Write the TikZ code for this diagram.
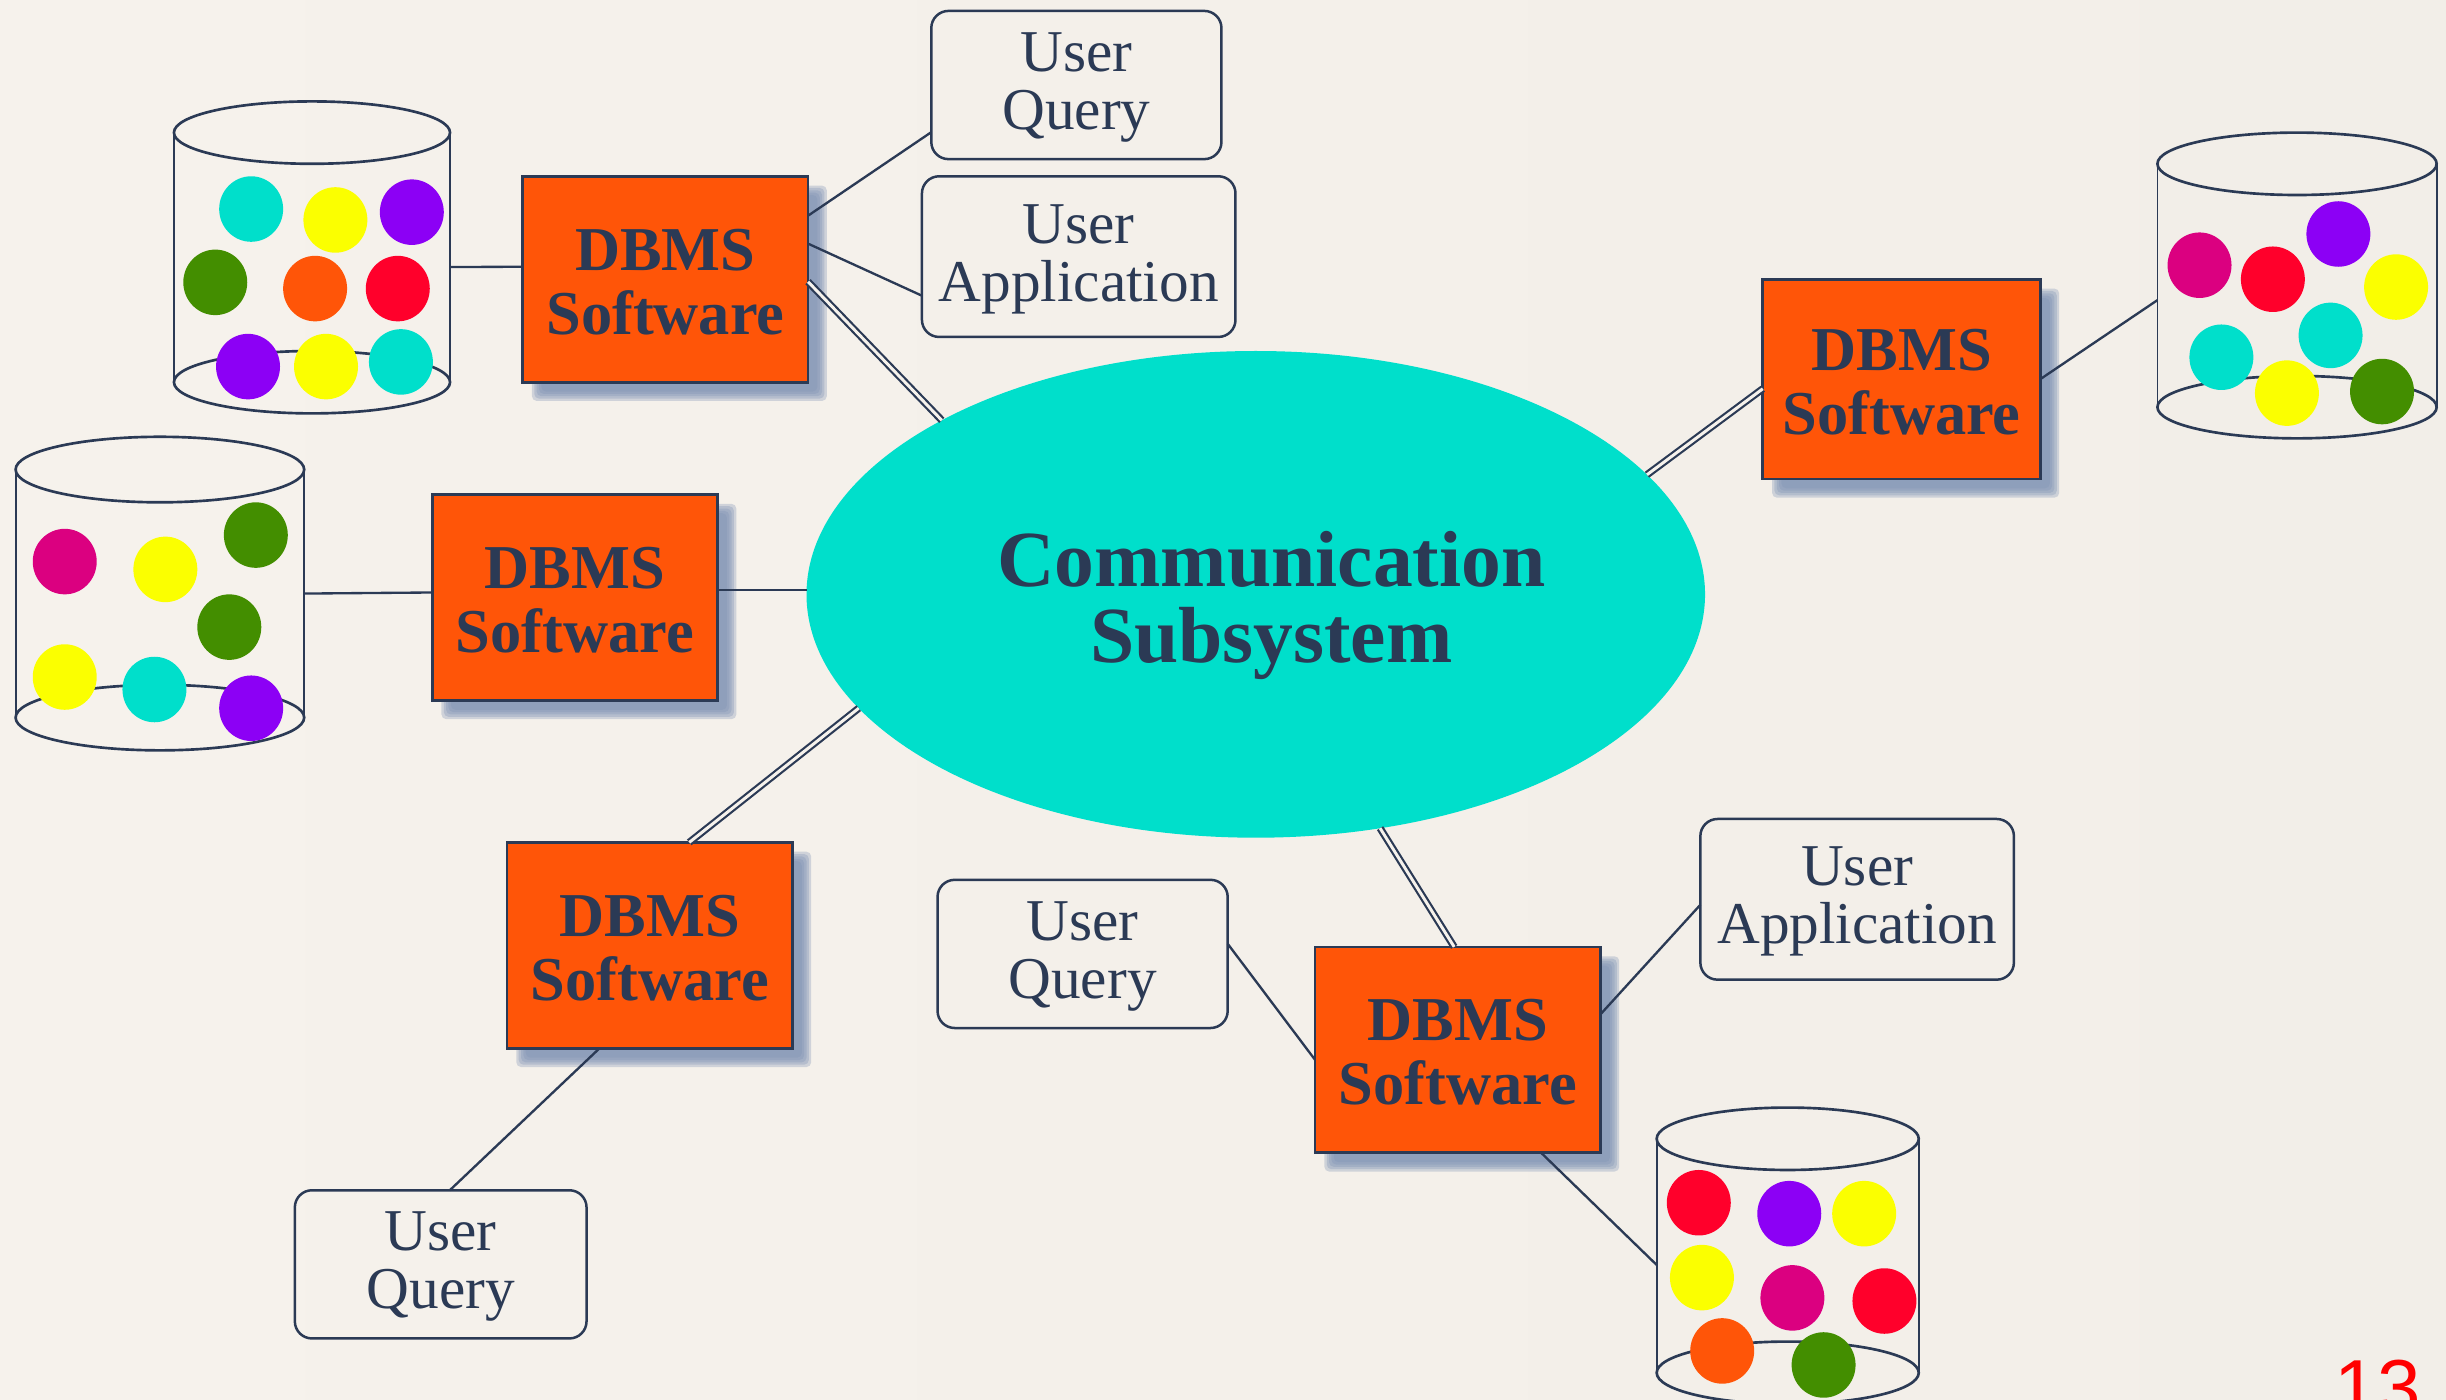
\documentclass[tikz,border=0pt]{standalone}
\usepackage{fontspec}
\setmainfont{Liberation Serif}
\newfontfamily\pagenumfont{Liberation Sans}
\usetikzlibrary{shapes.geometric,calc,backgrounds}
\definecolor{ink}{HTML}{2B3A55}
\definecolor{paperL}{HTML}{F6F2EC}
\definecolor{paperR}{HTML}{F2EEE8}
\definecolor{boxorange}{HTML}{FF5508}
\definecolor{commteal}{HTML}{00DFCB}
\definecolor{shadowblue}{HTML}{7F93B5}
\definecolor{dTeal}{HTML}{00DFCB}
\definecolor{dYellow}{HTML}{FBFF00}
\definecolor{dPurple}{HTML}{8C00F5}
\definecolor{dGreen}{HTML}{438E00}
\definecolor{dOrange}{HTML}{FF5508}
\definecolor{dRed}{HTML}{FF002B}
\definecolor{dMagenta}{HTML}{DB0080}
\definecolor{pagered}{HTML}{FF0000}
\tikzset{
  dbmsbox/.style={draw=ink,line width=1.8pt,fill=boxorange,minimum width=183pt,minimum height=132pt,
    inner sep=0pt,outer sep=0pt,text=ink,align=center,font=\fontsize{40}{41}\selectfont\bfseries},
  userbox/.style={draw=ink,line width=1.6pt,rounded corners=11pt,inner sep=0pt,outer sep=0pt,text=ink,
    align=center,font=\fontsize{38}{37}\selectfont},
  cylframe/.style={inner sep=0pt,outer sep=0pt},
  link/.style={draw=ink,line width=1.5pt},
  twinlink/.style={draw=ink,line width=1.4pt,double=paperL,double distance=1.9pt,line cap=butt},
  cylrim/.style={draw=ink,line width=1.7pt},
  cylside/.style={draw=ink,line width=1.2pt},
}
\newcommand{\dropD}{\rule{0pt}{30pt}}
\newcommand{\dropU}{\rule{0pt}{28pt}}
% name, centre x, top y, half width, rim half height, bottom y
\newcommand{\drumshape}[6]{%
  \node[cylframe,minimum width=#4*2pt,minimum height=(#6-#3+2*#5)*1pt] (#1) at (#2,{(#3+#6)/2}) {};
  \draw[cylside] (#2-#4,#3) -- (#2-#4,#6);
  \draw[cylside] (#2+#4,#3) -- (#2+#4,#6);
  \draw[cylrim] (#2,#3) ellipse [x radius=#4 pt,y radius=#5 pt];
  \draw[cylrim] (#2,#6) ellipse [x radius=#4 pt,y radius=#5 pt];
}
\newcommand{\ball}[3]{\fill[#1] (#2,#3) ellipse [x radius=20.5pt,y radius=21pt];}
\newcommand{\softshadow}[1]{%
  \begin{pgfonlayer}{background}
  \foreach \spread in {3,1.5,0,-1.5,-3}
    \fill[shadowblue,opacity=.32,rounded corners=3pt]
      ($(#1.north west)+(9-\spread,9-\spread)$) rectangle ($(#1.south east)+(9+\spread,9+\spread)$);
  \end{pgfonlayer}
}
\begin{document}
\begin{tikzpicture}[x=1pt,y=-1pt]
\useasboundingbox (0,0) rectangle (1568,897);
\clip (0,0) rectangle (1568,897);
\begin{pgfonlayer}{background}
\shade[left color=paperL,right color=paperR] (0,0) rectangle (1568,897);
\end{pgfonlayer}

% central ellipse
\node[ellipse,fill=commteal,minimum width=576pt,minimum height=312pt,inner sep=0pt,outer sep=0pt] (comm) at (805,381) {};
\node[text=ink,align=center,font=\fontsize{51}{49}\selectfont\bfseries] (commlabel) at (815,388) {Communication\\Subsystem};

% DBMS boxes
\node[dbmsbox] (b1) at (426.5,179) {\dropD DBMS\\Software};
\node[dbmsbox] (b2) at (368.5,383) {\dropD DBMS\\Software};
\node[dbmsbox] (b3) at (416.5,606) {\dropD DBMS\\Software};
\node[dbmsbox,minimum width=178pt,minimum height=128pt] (b4) at (1219,243) {\dropD DBMS\\Software};
\node[dbmsbox] (b5) at (934.5,673) {\dropD DBMS\\Software};
\softshadow{b1}\softshadow{b2}\softshadow{b3}\softshadow{b4}\softshadow{b5}

% user boxes
\node[userbox,minimum width=186pt,minimum height=95pt] (uq1) at (690,54.5) {\dropU User\\Query};
\node[userbox,minimum width=201pt,minimum height=103pt] (ua1) at (691.5,164.5) {\dropU User\\Application};
\node[userbox,minimum width=201pt,minimum height=103pt] (ua2) at (1190.5,576.5) {\dropU User\\Application};
\node[userbox,minimum width=186pt,minimum height=95pt] (uq4) at (694,611.5) {\dropU User\\Query};
\node[userbox,minimum width=187pt,minimum height=95pt] (uq3) at (282.5,810.5) {\dropU User\\Query};

% drums
\drumshape{c1}{200}{85}{88.5}{20}{245}
\ball{dTeal}{161}{134}\ball{dYellow}{215}{141}\ball{dPurple}{264}{136}
\ball{dGreen}{138}{181}\ball{dOrange}{202}{185}\ball{dRed}{255}{185}
\ball{dPurple}{159}{235}\ball{dYellow}{209}{235}\ball{dTeal}{257}{232}

\drumshape{c2}{102.5}{301}{92.5}{21}{460}
\ball{dMagenta}{41.5}{360}\ball{dYellow}{106}{365}\ball{dGreen}{164}{343}
\ball{dGreen}{147}{402}\ball{dYellow}{41.5}{434}\ball{dTeal}{99}{442}\ball{dPurple}{161}{454}

\drumshape{c3}{1472.5}{105}{89.5}{20}{261}
\ball{dMagenta}{1410}{170}\ball{dRed}{1457}{179}\ball{dPurple}{1499}{150}\ball{dYellow}{1536}{184}
\ball{dTeal}{1424}{229}\ball{dTeal}{1494}{215}\ball{dYellow}{1466}{252}\ball{dGreen}{1527}{251}

\drumshape{c4}{1146}{730}{84}{20}{880}
\ball{dRed}{1089}{771}\ball{dPurple}{1147}{778}\ball{dYellow}{1195}{778}
\ball{dYellow}{1091}{819}\ball{dMagenta}{1149}{832}\ball{dRed}{1208}{834}
\ball{dOrange}{1104}{866}\ball{dGreen}{1169}{875}

% connectors
\draw[link] (c1.356) -- (b1.175);
\draw[link] (b1.24.7) -- (uq1.198.7);
\draw[link] (b1.14.7) -- (ua1.194.2);
\draw[twinlink] (b1.359) -- (comm.151);
\draw[link] (c2.0) -- (b2.178.7);
\draw[link] (b2.3.1) -- (b2.3.1 -| comm.west);
\draw[twinlink] (b3.69.6) -- (comm.196.8);
\draw[link] (b3.244.5) -- (uq3.83.4);
\draw[twinlink] (comm.298.4) -- (b5.92.2);
\draw[link] (uq4.4) -- (b5.184.4);
\draw[link] (b5.14.1) -- (ua2.182);
\draw[link] (b5.309) -- (c4.184.8);
\draw[link] (c3.186.4) -- (b4.0);
\draw[twinlink] (comm.17) -- (b4.184.5);

% page number
\node[text=pagered,anchor=base,inner sep=0pt,font=\pagenumfont\fontsize{50}{50}\selectfont] (pagenum) at (1524,907) {13};
\end{tikzpicture}
\end{document}
